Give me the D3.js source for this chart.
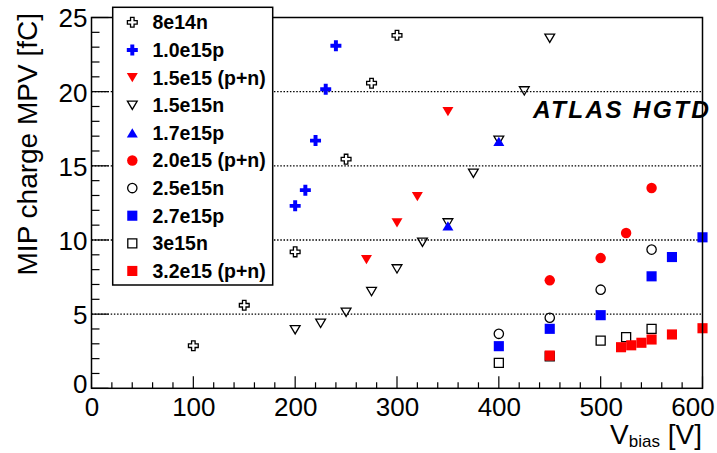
<!DOCTYPE html>
<html><head><meta charset="utf-8">
<script src="https://cdn.jsdelivr.net/npm/d3@7"></script>
<style>
html,body{margin:0;padding:0;background:#fff;}
svg{display:block;font-family:"Liberation Sans",Arial,Helvetica,sans-serif;}
</style></head>
<body><svg id="c" width="717" height="453"></svg>
<script>
// ---- data ----
const seriesNames = ["8e14n","1.0e15p","1.5e15 (p+n)","1.5e15n","1.7e15p","2.0e15 (p+n)","2.5e15n","2.7e15p","3e15n","3.2e15 (p+n)"];
const d8e14n    = [[100,2.87],[150,5.6],[200,9.2],[250,15.45],[275,20.57],[300,23.8]];
const d1_0e15p  = [[200,12.3],[210,13.36],[220,16.7],[230,20.16],[240,23.09]];
const d1_5e15pn = [[270,8.68],[300,11.15],[320,12.92],[350,18.65]];
const d1_5e15n  = [[200,3.95],[225,4.38],[250,5.12],[275,6.52],[300,8.05],[325,9.85],[350,11.15],[375,14.5],[400,16.72],[425,20.05],[450,23.6]];
const d1_7e15p  = [[350,10.95],[400,16.65]];
const d2_0e15pn = [[450,7.28],[500,8.78],[525,10.47],[550,13.5]];
const d2_5e15n  = [[400,3.67],[450,4.76],[500,6.65],[550,9.35]];
const d2_7e15p  = [[400,2.84],[450,4.01],[500,4.93],[550,7.55],[570,8.85],[600,10.18]];
const d3e15n    = [[400,1.72],[450,2.15],[500,3.22],[525,3.45],[550,4.01]];
const d3_2e15pn = [[450,2.21],[520,2.77],[530,2.9],[540,3.07],[550,3.29],[570,3.63],[600,4.05]];
const seriesData = [d8e14n,d1_0e15p,d1_5e15pn,d1_5e15n,d1_7e15p,d2_0e15pn,d2_5e15n,d2_7e15p,d3e15n,d3_2e15pn];
const seriesMarker = ["cross","cross","tridown","tridown","triup","circle","circle","square","square","square"];
const seriesColor  = ["#000","#0000ff","#ff0000","#000","#0000ff","#ff0000","#000","#0000ff","#000","#ff0000"];
const seriesFilled = [false,true,true,false,true,true,false,true,false,true];
const xTicks = [0,100,200,300,400,500,600];
const yTicks = [0,5,10,15,20,25];
const gridValues = [5,10,15,20];

// ---- layout ----
const svg = d3.select("#c");
const x = d3.scaleLinear().domain([0,600]).range([91.5,702.5]);
const y = d3.scaleLinear().domain([0,25]).range([388.3,17.5]);

// grid lines
svg.append("g").selectAll("line").data(gridValues).join("line")
  .attr("x1",x(0)).attr("x2",x(600)).attr("y1",d=>y(d)).attr("y2",d=>y(d))
  .attr("stroke","#000").attr("stroke-width",1.3).attr("stroke-dasharray","1.5,1.7");

// marker paths
function markerPath(type,s){
  const a=s/2;
  if(type==="cross"){const b=a*0.36;
    return `M${-b},${-a}H${b}V${-b}H${a}V${b}H${b}V${a}H${-b}V${b}H${-a}V${-b}H${-b}Z`;}
  if(type==="tridown"){return `M${-a},${-a*0.85}H${a}L0,${a*0.85}Z`;}
  if(type==="triup"){return `M${-a},${a*0.85}H${a}L0,${-a*0.85}Z`;}
  if(type==="square"){const c=a*0.92;return `M${-c},${-c}H${c}V${c}H${-c}Z`;}
  if(type==="circle"){return d3.arc()({innerRadius:0,outerRadius:a*0.95,startAngle:0,endAngle:2*Math.PI});}
}
const MS = 11;
function drawMarker(g,type,color,filled){
  g.append("path").attr("d",markerPath(type,filled?MS:MS-1.2))
   .attr("fill",filled?color:"#fff").attr("fill-opacity",filled?1:0)
   .attr("stroke",color).attr("stroke-width",filled?0:1.3);
}

// data points
seriesData.forEach((data,i)=>{
  const g = svg.append("g");
  g.selectAll("g").data(data).join("g")
    .attr("transform",d=>`translate(${x(d[0])},${y(d[1])})`)
    .each(function(){drawMarker(d3.select(this),seriesMarker[i],seriesColor[i],seriesFilled[i]);});
});

// axes
const xAxis = d3.axisBottom(x).tickValues(xTicks).tickSize(0).tickFormat(d3.format("d"));
const yAxis = d3.axisLeft(y).tickValues(yTicks).tickSize(0).tickFormat(d3.format("d"));
const gx = svg.append("g").attr("transform",`translate(0,${y(0)})`).call(xAxis);
gx.select(".domain").remove();
gx.selectAll("text").attr("font-size",26).attr("fill","#000").attr("dy",null).attr("y",27.5).attr("font-family","Liberation Sans, Arial, sans-serif");
const gy = svg.append("g").attr("transform",`translate(${x(0)},0)`).call(yAxis);
gy.select(".domain").remove();
gy.selectAll("text").attr("font-size",26).attr("fill","#000").attr("x",-4).attr("dy","0.36em").attr("font-family","Liberation Sans, Arial, sans-serif");
gy.selectAll("text").filter(d=>d===0).attr("x",-4).attr("dy","0.15em");
gx.selectAll("text").filter(d=>d===0).attr("x",0);
gx.selectAll("text").filter(d=>d===600).attr("x",-10);

// tick marks (inside)
const xMinor = d3.range(0,601,20);
svg.append("g").selectAll("line").data(xMinor).join("line")
  .attr("x1",d=>x(d)).attr("x2",d=>x(d)).attr("y1",y(0)).attr("y2",d=>y(0)-(d%100===0?12:6))
  .attr("stroke","#000").attr("stroke-width",1.2);
const yMinor = d3.range(0,26,1);
svg.append("g").selectAll("line").data(yMinor).join("line")
  .attr("y1",d=>y(d)).attr("y2",d=>y(d)).attr("x1",x(0)).attr("x2",d=>x(0)+(d%5===0?17:8))
  .attr("stroke","#000").attr("stroke-width",1.2);

// frame
svg.append("rect").attr("x",x(0)).attr("y",y(25)).attr("width",x(600)-x(0)).attr("height",y(0)-y(25))
  .attr("fill","none").attr("stroke","#000").attr("stroke-width",1.5);

// legend
const lg = svg.append("g");
lg.append("rect").attr("x",112.7).attr("y",7.3).attr("width",160).attr("height",277.7)
  .attr("fill","#fff").attr("stroke","#000").attr("stroke-width",1.5);
seriesNames.forEach((name,i)=>{
  const yy = 22.3 + i*27.63;
  const mg = lg.append("g").attr("transform",`translate(132.3,${yy})`);
  drawMarker(mg,seriesMarker[i],seriesColor[i],seriesFilled[i]);
  lg.append("text").attr("x",152.5).attr("y",yy).attr("dy","0.36em")
    .attr("font-size",19.5).attr("font-weight","bold").attr("fill","#000").text(name);
});

// ATLAS label
svg.append("text").attr("x",533).attr("y",118.3).attr("font-size",24.5).attr("font-weight","bold")
  .attr("font-style","italic").attr("letter-spacing","2.2").attr("fill","#000").text("ATLAS HGTD");

// axis titles
const xt = svg.append("text").attr("x",702).attr("y",444).attr("text-anchor","end").attr("font-size",28).attr("fill","#000");
xt.append("tspan").text("V");
xt.append("tspan").attr("font-size",17).attr("dy",3).text("bias");
xt.append("tspan").attr("dy",-3).text(" [V]");

svg.append("text").attr("transform","translate(37,13) rotate(-90)").attr("text-anchor","end")
  .attr("font-size",28).attr("fill","#000").text("MIP charge MPV [fC]");
</script></body></html>
